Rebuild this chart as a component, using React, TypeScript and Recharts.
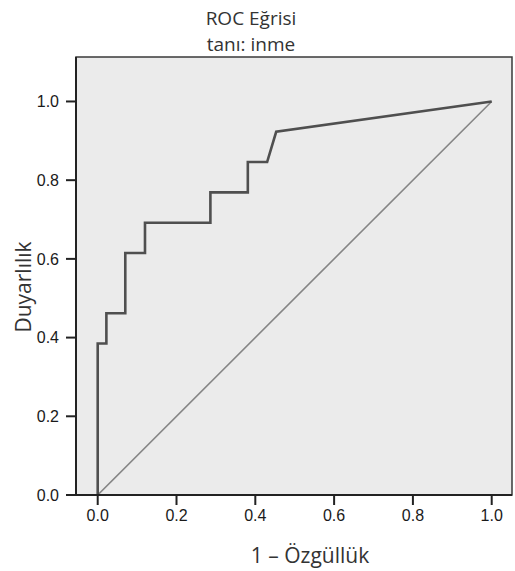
import React from 'react';
import { LineChart, Line, XAxis, YAxis, ReferenceArea } from 'recharts';

// ROC points (1 - specificity, sensitivity)
const rocFpr = [0, 0, 0.022, 0.022, 0.07, 0.07, 0.12, 0.12, 0.286, 0.286, 0.381, 0.381, 0.43, 0.453, 1.0];
const rocTpr = [0, 0.385, 0.385, 0.462, 0.462, 0.615, 0.615, 0.692, 0.692, 0.769, 0.769, 0.846, 0.846, 0.923, 1.0];

const refFpr = [0, 1];
const refTpr = [0, 1];

const tickValues = [0, 0.2, 0.4, 0.6, 0.8, 1.0];

const X_MIN = -0.0551;
const X_MAX = 1.0515;
const Y_MAX = 1.113;

const rocData = rocFpr.map((x, i) => ({ x, y: rocTpr[i] }));
const refData = refFpr.map((x, i) => ({ x, y: refTpr[i] }));

const labelFont = '"Open Sans", "Noto Sans", sans-serif';
const tickStyle = { fontSize: 16, fill: '#1a1a1a', fontFamily: '"Liberation Sans", Arial, sans-serif' };

const App: React.FC = () => {
  return (
    <div style={{ position: 'absolute', left: 0, top: 0, width: 515, height: 571, background: '#fff' }}>
      <LineChart
        width={515}
        height={571}
        margin={{ top: 57, right: 3, left: 16, bottom: 46 }}
      >
        <ReferenceArea
          x1={X_MIN}
          x2={X_MAX}
          y1={0}
          y2={Y_MAX}
          fill="#ebebeb"
          fillOpacity={1}
          stroke="#3a3a3a"
          strokeWidth={1.5}
          ifOverflow="extendDomain"
        />
        <XAxis
          dataKey="x"
          type="number"
          domain={[X_MIN, X_MAX]}
          ticks={tickValues}
          tickFormatter={(v: number) => v.toFixed(1)}
          tickSize={10}
          tickMargin={5}
          height={30}
          tick={tickStyle}
          axisLine={{ stroke: '#222', strokeWidth: 2 }}
          tickLine={{ stroke: '#222', strokeWidth: 2 }}
          allowDataOverflow
        />
        <YAxis
          type="number"
          domain={[0, Y_MAX]}
          ticks={tickValues}
          tickFormatter={(v: number) => v.toFixed(1)}
          tickSize={10}
          tickMargin={7}
          width={60}
          tick={tickStyle}
          axisLine={{ stroke: '#222', strokeWidth: 2 }}
          tickLine={{ stroke: '#222', strokeWidth: 2 }}
          allowDataOverflow
        />
        <Line
          data={refData}
          dataKey="y"
          type="linear"
          stroke="#858585"
          strokeWidth={1.6}
          dot={false}
          activeDot={false}
          isAnimationActive={false}
        />
        <Line
          data={rocData}
          dataKey="y"
          type="linear"
          stroke="#4f4f4f"
          strokeWidth={2.6}
          dot={false}
          activeDot={false}
          isAnimationActive={false}
        />
        <text x={251} y={25} textAnchor="middle" fontSize={19} fill="#333" fontFamily={labelFont}>
          ROC Eğrisi
        </text>
        <text x={251} y={51} textAnchor="middle" fontSize={19} fill="#333" fontFamily={labelFont}>
          tanı: inme
        </text>
        <text x={310} y={563} textAnchor="middle" fontSize={21} fill="#333" fontFamily={labelFont}>
          1 – Özgüllük
        </text>
        <text
          x={31}
          y={287}
          textAnchor="middle"
          fontSize={21}
          fill="#333"
          fontFamily={labelFont}
          transform="rotate(-90 31 287)"
        >
          Duyarlılık
        </text>
      </LineChart>
    </div>
  );
};

export default App;
